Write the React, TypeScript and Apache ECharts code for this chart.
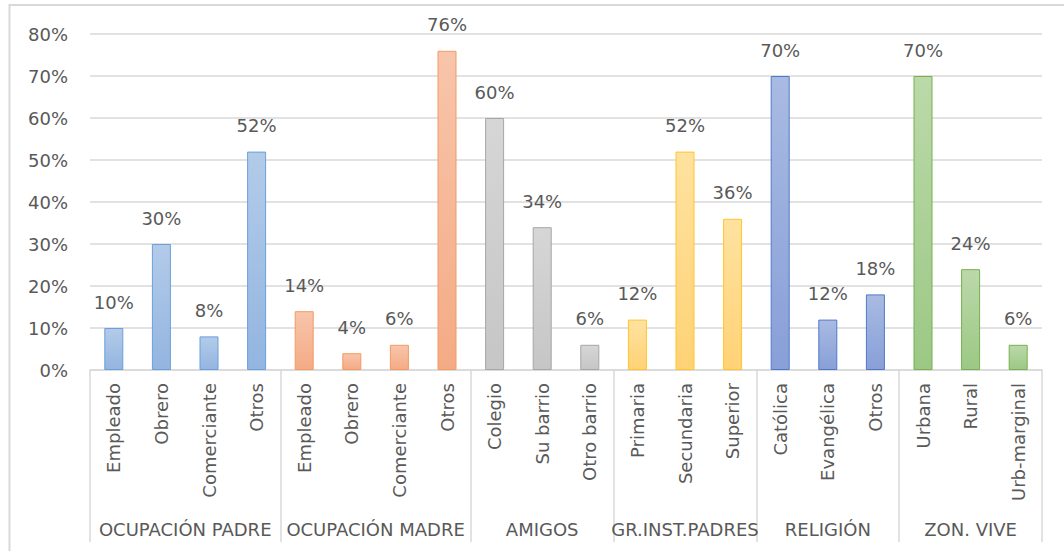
import React, { useEffect, useRef } from "react";
import * as echarts from "echarts";

const categories = [
  "Empleado", "Obrero", "Comerciante", "Otros",
  "Empleado", "Obrero", "Comerciante", "Otros",
  "Colegio", "Su barrio", "Otro barrio",
  "Primaria", "Secundaria", "Superior",
  "Católica", "Evangélica", "Otros",
  "Urbana", "Rural", "Urb-marginal",
];
const values = [10, 30, 8, 52, 14, 4, 6, 76, 60, 34, 6, 12, 52, 36, 70, 12, 18, 70, 24, 6];
const groupNames = ["OCUPACIÓN PADRE", "OCUPACIÓN MADRE", "AMIGOS", "GR.INST.PADRES", "RELIGIÓN", "ZON. VIVE"];
const groupSizes = [4, 4, 3, 3, 3, 3];

const groupColors = [
  { top: "#b3cbe9", bottom: "#93b5e0", border: "#6b9fdb" },
  { top: "#f8c5ab", bottom: "#f4ab85", border: "#f39a62" },
  { top: "#d6d6d6", bottom: "#c6c6c6", border: "#a6a6a6" },
  { top: "#ffe2a0", bottom: "#ffd276", border: "#ffc52a" },
  { top: "#a9bbe2", bottom: "#889fd8", border: "#4f79c8" },
  { top: "#bbd9a9", bottom: "#9cc885", border: "#77b04f" },
];

const FONT = "DejaVu Sans";
const TEXT = "#595959";
const LINE = "#d9d9d9";

export default function App() {
  const ref = useRef<HTMLDivElement>(null);
  useEffect(() => {
    if (!ref.current) return;
    const chart = echarts.init(ref.current, undefined, { renderer: "svg" });

    // group index for each category, group boundaries
    const groupOf: number[] = [];
    const boundaries = new Set<number>();
    let start = 0;
    groupSizes.forEach((n, g) => {
      boundaries.add(start);
      for (let i = 0; i < n; i++) groupOf.push(g);
      start += n;
    });

    // half-category positions for group labels (boundaryGap false axis)
    const total = categories.length;
    const halfLabels: string[] = new Array(total * 2 + 1).fill("");
    let s = 0;
    groupSizes.forEach((n, g) => {
      halfLabels[2 * s + n] = groupNames[g];
      s += n;
    });

    const data = values.map((v, i) => {
      const c = groupColors[groupOf[i]];
      return {
        value: v,
        itemStyle: {
          color: new echarts.graphic.LinearGradient(0, 0, 0, 1, [
            { offset: 0, color: c.top },
            { offset: 1, color: c.bottom },
          ]),
          borderColor: c.border,
          borderWidth: 1,
        },
      };
    });

    chart.setOption({
      animation: false,
      backgroundColor: "#ffffff",
      textStyle: { fontFamily: FONT },
      graphic: [
        {
          type: "rect",
          shape: { x: 9.5, y: 5, width: 1080, height: 580 },
          style: { fill: "none", stroke: LINE, lineWidth: 2 },
          silent: true,
          z: -1,
        },
      ],
      grid: { left: 90, right: 22, top: 34, bottom: 181, containLabel: false },
      xAxis: [
        {
          type: "category",
          data: categories,
          position: "bottom",
          axisLine: { show: true, lineStyle: { color: LINE, width: 1.5 } },
          axisTick: {
            show: true,
            length: 172,
            interval: (index: number) => boundaries.has(index),
            lineStyle: { color: LINE, width: 1.5 },
          },
          axisLabel: {
            rotate: 90,
            interval: 0,
            margin: 13,
            fontSize: 18,
            color: TEXT,
            fontFamily: FONT,
          },
        },
        {
          type: "category",
          data: halfLabels,
          boundaryGap: false,
          position: "bottom",
          offset: 150,
          axisLine: { show: false },
          axisTick: { show: false },
          axisLabel: {
            interval: 0,
            margin: 0,
            fontSize: 18,
            color: TEXT,
            fontFamily: FONT,
          },
        },
      ],
      yAxis: {
        type: "value",
        min: 0,
        max: 80,
        interval: 10,
        axisLine: { show: false },
        axisTick: { show: false },
        axisLabel: {
          formatter: "{value}%",
          margin: 22,
          fontSize: 18,
          color: TEXT,
          fontFamily: FONT,
        },
        splitLine: { lineStyle: { color: LINE, width: 1.5 } },
      },
      series: [
        {
          type: "bar",
          xAxisIndex: 0,
          data,
          barWidth: 19,
          label: {
            show: true,
            position: "top",
            distance: 17,
            formatter: "{c}%",
            fontSize: 18,
            color: TEXT,
            fontFamily: FONT,
          },
        },
      ],
    });
    return () => chart.dispose();
  }, []);
  return (
    <div
      ref={ref}
      style={{ position: "fixed", left: 0, top: 0, width: 1064, height: 551, background: "#fff" }}
    />
  );
}
